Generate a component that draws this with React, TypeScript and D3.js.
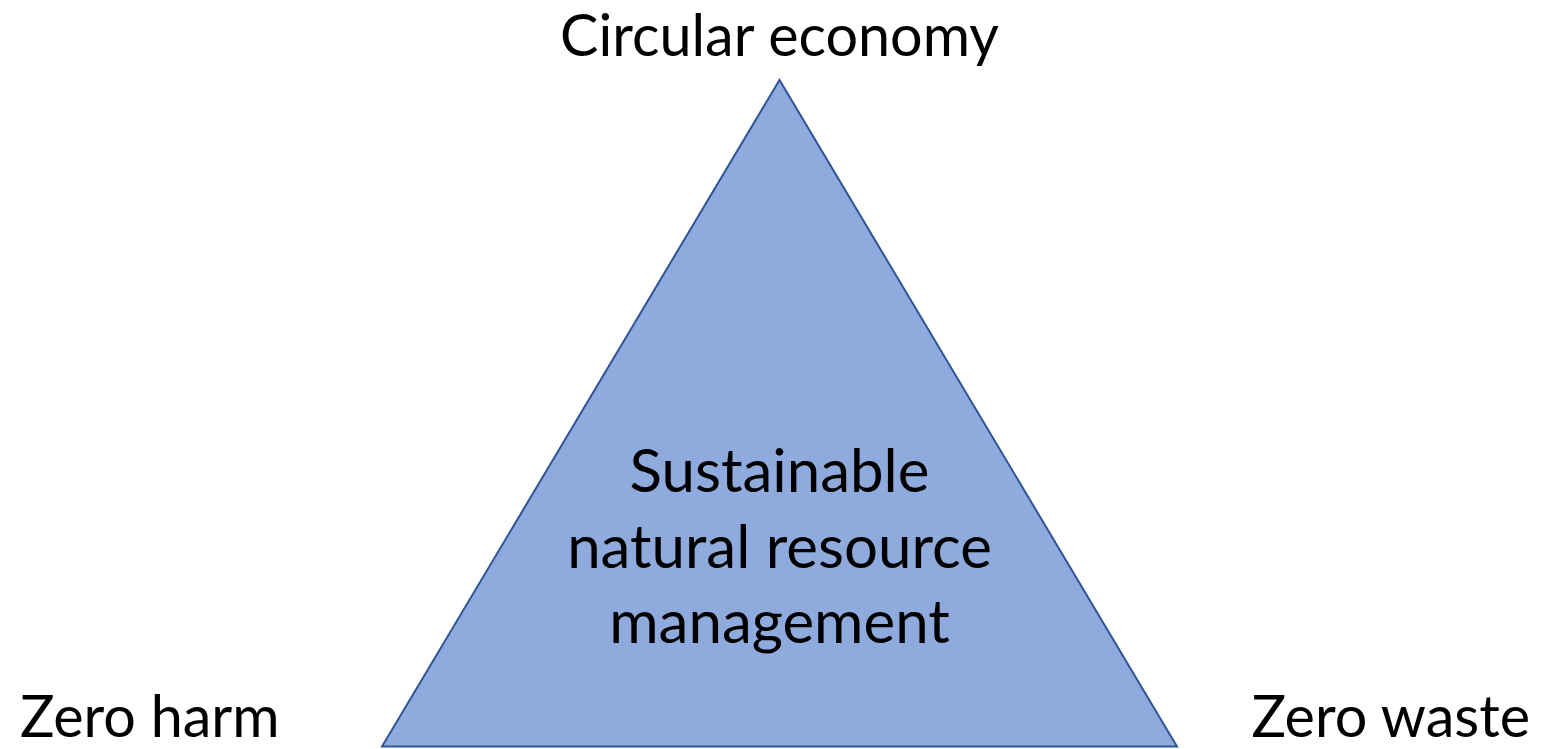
import { useMemo } from 'react';
import * as d3 from 'd3';

// triangle corners in unit space (x: 0..1 along the base, y: 0 base .. 1 apex)
const cornerNames = ['Zero harm', 'Circular economy', 'Zero waste'];
const cornerX = [0, 0.5, 1];
const cornerY = [0, 1, 0];
const centerLines = ['Sustainable', 'natural resource', 'management'];

const W = 1552;
const H = 749;

const App = () => {
    const x = useMemo(() => d3.scaleLinear().domain([0, 1]).range([382, 1177]), []);
    const y = useMemo(() => d3.scaleLinear().domain([0, 1]).range([746.5, 80]), []);

    const pts: [number, number][] = cornerX.map((cx, i) => [x(cx), y(cornerY[i])]);
    const path = d3.line()(pts) + 'Z';

    const font = "Lato, 'Open Sans', sans-serif";

    // label placement for each corner
    const labelPos = [
        { x: 20, y: 737, anchor: 'start' },
        { x: x(0.5), y: 56, anchor: 'middle' },
        { x: 1530, y: 737, anchor: 'end' },
    ];

    return (
        <svg width={W} height={H} style={{ position: 'absolute', left: 0, top: 0, background: '#fff' }}>
            <path d={path} fill="#8FAADC" stroke="#2F5597" strokeWidth={2} strokeLinejoin="miter" />
            {cornerNames.map((name, i) => (
                <text
                    key={name}
                    x={labelPos[i].x}
                    y={labelPos[i].y}
                    textAnchor={labelPos[i].anchor}
                    fontFamily={font}
                    fontSize={57.5}
                    fill="#000"
                >
                    {name}
                </text>
            ))}
            {centerLines.map((line, i) => (
                <text
                    key={line}
                    x={x(0.5)}
                    y={492 + i * 75.5}
                    textAnchor="middle"
                    fontFamily={font}
                    fontSize={60}
                    fill="#000"
                >
                    {line}
                </text>
            ))}
        </svg>
    );
};

export default App;
